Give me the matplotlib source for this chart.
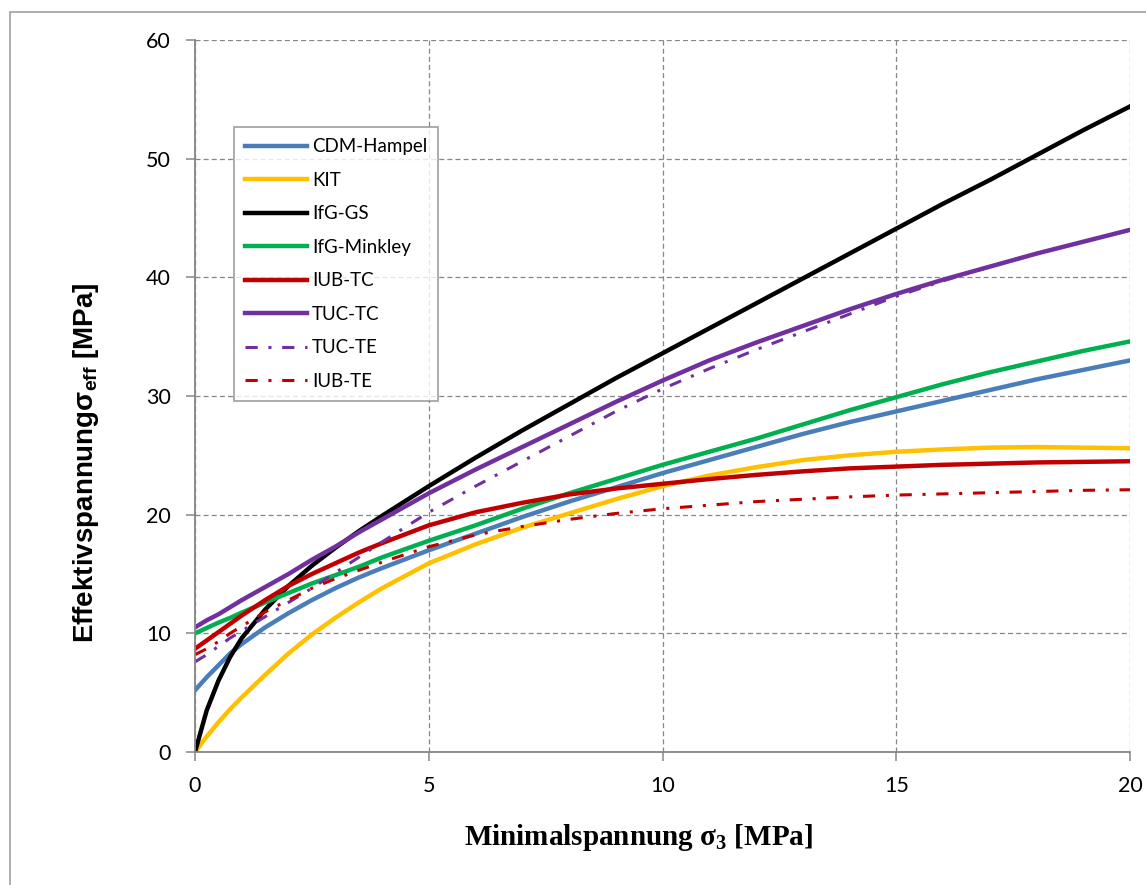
import numpy as np
import matplotlib
matplotlib.use("Agg")
import matplotlib.pyplot as plt
from matplotlib.patches import Rectangle

# minimal principal stress sigma_3 [MPa] where the model curves are sampled
sig3 = [0, 0.25, 0.5, 0.75, 1, 1.5, 2, 2.5, 3, 3.5, 4,
        5, 6, 7, 8, 9, 10, 11, 12, 13, 14, 15, 16, 17, 18, 19, 20]

# effective stress sigma_eff [MPa] for each material model
cdm_hampel = [5.2, 6.3, 7.3, 8.3, 9.1, 10.5, 11.7, 12.8, 13.8, 14.7, 15.5,
              17.0, 18.4, 19.8, 21.1, 22.3, 23.5, 24.6, 25.7, 26.8, 27.8, 28.7, 29.6, 30.5, 31.4, 32.2, 33.0]
kit = [0.0, 1.3, 2.5, 3.6, 4.6, 6.5, 8.3, 9.9, 11.3, 12.6, 13.8,
       15.9, 17.5, 18.9, 20.1, 21.3, 22.4, 23.3, 24.0, 24.6, 25.0, 25.3, 25.5, 25.65, 25.7, 25.65, 25.6]
ifg_gs = [0.0, 3.5, 6.0, 8.0, 9.6, 12.0, 14.0, 15.7, 17.2, 18.6, 19.9,
          22.4, 24.8, 27.1, 29.3, 31.5, 33.6, 35.7, 37.8, 39.9, 42.0, 44.1, 46.2, 48.2, 50.3, 52.4, 54.4]
ifg_minkley = [10.0, 10.45, 10.9, 11.3, 11.75, 12.6, 13.4, 14.2, 14.9, 15.6, 16.4,
               17.8, 19.1, 20.5, 21.8, 23.0, 24.2, 25.3, 26.4, 27.6, 28.8, 29.9, 31.0, 32.0, 32.9, 33.8, 34.6]
iub_tc = [8.7, 9.4, 10.1, 10.8, 11.5, 12.8, 14.0, 15.0, 15.9, 16.8, 17.6,
          19.1, 20.2, 21.0, 21.7, 22.2, 22.6, 23.0, 23.35, 23.65, 23.9, 24.05, 24.2, 24.3, 24.4, 24.45, 24.5]
tuc_tc = [10.5, 11.1, 11.6, 12.2, 12.8, 13.9, 15.0, 16.2, 17.3, 18.5, 19.6,
          21.8, 23.8, 25.7, 27.6, 29.5, 31.3, 33.0, 34.5, 35.9, 37.3, 38.6, 39.8, 40.9, 42.0, 43.0, 44.0]
tuc_te = [7.6, 8.2, 8.9, 9.6, 10.2, 11.4, 12.6, 13.8, 15.1, 16.4, 17.7,
          20.2, 22.4, 24.5, 26.6, 28.7, 30.6, 32.3, 33.9, 35.4, 36.9, 38.4, 39.7, 40.9, 42.0, 43.0, 44.0]
iub_te = [8.2, 8.7, 9.3, 10.0, 10.6, 11.8, 12.8, 13.8, 14.6, 15.3, 16.0,
          17.3, 18.3, 19.0, 19.6, 20.1, 20.5, 20.8, 21.1, 21.3, 21.5, 21.65, 21.75, 21.85, 21.95, 22.05, 22.1]

labels = ["CDM-Hampel", "KIT", "IfG-GS", "IfG-Minkley", "IUB-TC", "TUC-TC", "TUC-TE", "IUB-TE"]
series = [cdm_hampel, kit, ifg_gs, ifg_minkley, iub_tc, tuc_tc, tuc_te, iub_te]
colors = ["#4A7EBB", "#FFC000", "#000000", "#00B050", "#C00000", "#7030A0", "#7030A0", "#C00000"]
dashdot = [False, False, False, False, False, False, True, True]

grey = "#868686"

fig = plt.figure(figsize=(11.46, 8.85), dpi=100)
ax = fig.add_axes([195 / 1146, 133 / 885, 935 / 1146, 712 / 885])

# thin frame around the whole chart area
fig.add_artist(Rectangle((10 / 1146, -0.05), 1.2, 0.05 + 873 / 885, transform=fig.transFigure,
                         fill=False, edgecolor="#A0A0A0", linewidth=1.2, zorder=0))

for y, lab, c, dd in zip(series, labels, colors, dashdot):
    if dd:
        ax.plot(sig3, y, color=c, linewidth=2.2, dashes=(4, 3.5, 1, 3.5), label=lab)
    else:
        ax.plot(sig3, y, color=c, linewidth=3.2, label=lab, solid_joinstyle="round")

ax.set_xlim(0, 20)
ax.set_ylim(0, 60)
ax.set_xticks(np.arange(0, 21, 5))
ax.set_yticks(np.arange(0, 61, 10))
ax.grid(True, color=grey, linestyle=(0, (4, 2.5)), linewidth=0.9)
ax.set_axisbelow(True)

for s in ["top", "right"]:
    ax.spines[s].set_visible(False)
for s in ["left", "bottom"]:
    ax.spines[s].set_color(grey)
    ax.spines[s].set_linewidth(1.3)

ax.tick_params(axis="both", direction="out", length=6.5, width=1.1, color=grey,
               labelsize=15.5, pad=11)
for t in ax.get_xticklabels() + ax.get_yticklabels():
    t.set_fontfamily("Lato")

ax.set_xlabel("Minimalspannung σ$_\\mathregular{3}$ [MPa]", fontfamily="Liberation Serif",
              fontweight="bold", fontsize=21)
ax.xaxis.set_label_coords(0.474, -0.098)
ax.set_ylabel("Effektivspannungσ$_\\mathregular{eff}$ [MPa]", fontfamily="Liberation Sans",
              fontweight="bold", fontsize=20)
ax.yaxis.set_label_coords(-0.101, 0.406)

leg = ax.legend(loc="upper left", bbox_to_anchor=(0.0417, 0.878), frameon=True,
                fancybox=False, shadow=False, prop={"family": "Lato", "size": 13.5},
                handlelength=3.3, handletextpad=0.25, labelspacing=0.88, borderpad=0.6,
                borderaxespad=0)
leg.get_frame().set_edgecolor(grey)
leg.get_frame().set_linewidth(1.2)
for h in leg.get_lines():
    h.set_linewidth(3.2 if h.get_linestyle() == "-" else 2.2)

fig.savefig("out.png", dpi=100)
